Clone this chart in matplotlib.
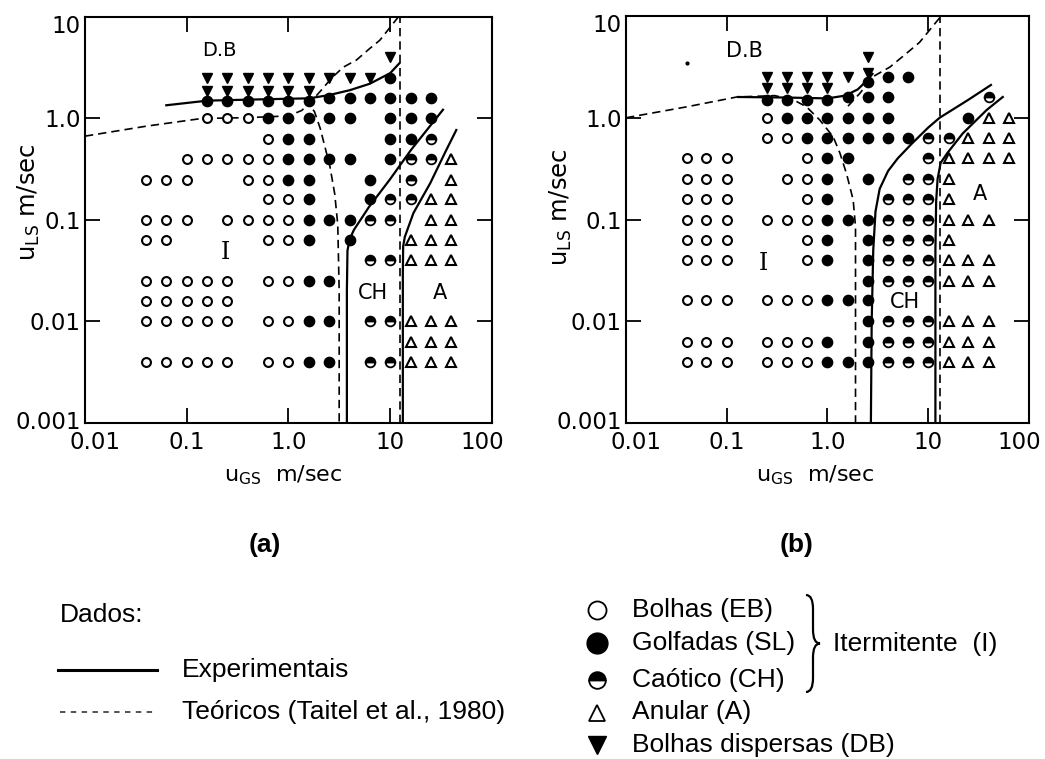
import matplotlib
matplotlib.use("Agg")
import matplotlib.pyplot as plt
from matplotlib.path import Path
from matplotlib.patches import PathPatch
from matplotlib.transforms import ScaledTranslation
from matplotlib.ticker import NullLocator, FixedLocator, FixedFormatter

# ---- flow pattern observations, panel (a): (u_LS, [u_GS, ...]) ----
eb_a = [(1.0, [0.16, 0.25, 0.4]),
        (0.63, [0.63]),
        (0.4, [0.1, 0.16, 0.25, 0.4, 0.63]),
        (0.25, [0.04, 0.063, 0.1, 0.4, 0.63]),
        (0.16, [0.63, 1.0]),
        (0.1, [0.04, 0.063, 0.1, 0.25, 0.4, 0.63, 1.0]),
        (0.063, [0.04, 0.063, 0.63, 1.0]),
        (0.025, [0.04, 0.063, 0.1, 0.16, 0.25, 0.63, 1.0]),
        (0.016, [0.04, 0.063, 0.1, 0.16, 0.25]),
        (0.01, [0.04, 0.063, 0.1, 0.16, 0.25, 0.63, 1.0]),
        (0.004, [0.04, 0.063, 0.1, 0.16, 0.25, 0.63, 1.0])]
sl_a = [(2.5, [10]),
        (1.6, [2.5, 4.0, 6.3, 10, 16, 25]),
        (1.5, [0.16, 0.25, 0.4, 0.63, 1.0, 1.6]),
        (1.0, [0.63, 1.0, 1.6, 2.5, 4.0, 10, 16, 25]),
        (0.63, [1.0, 1.6, 10, 16]),
        (0.4, [1.0, 1.6, 2.5, 4.0, 10]),
        (0.25, [1.0, 1.6, 6.3]),
        (0.16, [1.6, 6.3]),
        (0.1, [1.6, 2.5, 4.0]),
        (0.063, [1.6, 4.0]),
        (0.025, [1.6, 2.5]),
        (0.01, [1.6, 2.5]),
        (0.004, [1.6, 2.5])]
ch_a = [(0.63, [25]),
        (0.4, [16, 25]),
        (0.25, [16]),
        (0.16, [10, 16]),
        (0.1, [6.3, 10]),
        (0.04, [6.3, 10]),
        (0.01, [6.3, 10]),
        (0.004, [6.3, 10])]
an_a = [(0.4, [40]),
        (0.25, [40]),
        (0.16, [25, 40]),
        (0.1, [25, 40]),
        (0.063, [16, 25, 40]),
        (0.04, [16, 25, 40]),
        (0.01, [16, 25, 40]),
        (0.0063, [16, 25, 40]),
        (0.004, [16, 25, 40])]
db_a = [(4.0, [10]),
        (2.5, [0.16, 0.25, 0.4, 0.63, 1.0, 1.6, 2.5, 4.0, 6.3]),
        (1.85, [0.16, 0.25, 0.4, 0.63, 1.0, 1.6])]

# ---- panel (b) ----
eb_b = [(1.0, [0.25]),
        (0.63, [0.25, 0.4]),
        (0.4, [0.04, 0.063, 0.1, 0.63]),
        (0.25, [0.04, 0.063, 0.1, 0.4, 0.63]),
        (0.16, [0.04, 0.063, 0.1, 0.63]),
        (0.1, [0.04, 0.063, 0.1, 0.25, 0.4, 0.63]),
        (0.063, [0.04, 0.063, 0.1, 0.63]),
        (0.04, [0.04, 0.063, 0.1, 0.63]),
        (0.016, [0.04, 0.063, 0.1, 0.25, 0.4, 0.63]),
        (0.0063, [0.04, 0.063, 0.1, 0.25, 0.4, 0.63]),
        (0.004, [0.04, 0.063, 0.1, 0.25, 0.4, 0.63])]
sl_b = [(2.5, [4.0, 6.3]),
        (2.25, [2.5]),
        (1.6, [1.6, 2.5, 4.0]),
        (1.5, [0.25, 0.4, 0.63, 1.0]),
        (1.0, [0.4, 0.63, 1.0, 1.6, 2.5, 4.0, 25]),
        (0.63, [0.63, 1.0, 1.6, 2.5, 4.0, 6.3]),
        (0.4, [1.0, 1.6]),
        (0.25, [1.0, 2.5]),
        (0.16, [1.0]),
        (0.1, [1.0, 1.6, 2.5]),
        (0.063, [1.0, 2.5]),
        (0.04, [1.0, 2.5]),
        (0.025, [2.5]),
        (0.016, [1.0, 1.6, 2.5]),
        (0.01, [2.5]),
        (0.0063, [1.0, 2.5]),
        (0.004, [1.0, 1.6, 2.5])]
ch_b = [(1.6, [40]),
        (0.63, [10, 16]),
        (0.4, [10]),
        (0.25, [6.3, 10]),
        (0.16, [4.0, 6.3, 10]),
        (0.1, [4.0, 6.3, 10]),
        (0.063, [4.0, 6.3, 10]),
        (0.04, [4.0, 6.3, 10]),
        (0.025, [4.0, 6.3, 10]),
        (0.01, [4.0, 6.3, 10]),
        (0.0063, [4.0, 6.3, 10]),
        (0.004, [4.0, 6.3, 10])]
an_b = [(1.0, [40, 63]),
        (0.63, [25, 40, 63]),
        (0.4, [16, 25, 40, 63]),
        (0.25, [16]),
        (0.16, [16]),
        (0.1, [16, 25, 40]),
        (0.063, [16]),
        (0.04, [16, 25, 40]),
        (0.025, [16, 25, 40]),
        (0.01, [16, 25, 40]),
        (0.0063, [16, 25, 40]),
        (0.004, [16, 25, 40])]
db_b = [(4.0, [2.5]),
        (2.75, [2.5]),
        (2.5, [0.25, 0.4, 0.63, 1.0, 1.6]),
        (1.95, [0.25, 0.4, 0.63, 1.0])]

# ---- transition boundaries (u_GS list, u_LS list) ----
exp_db_a = ([0.063, 0.16, 0.63, 1.6, 2.5, 4.0, 6.3, 10, 12.3],
            [1.35, 1.5, 1.55, 1.58, 1.7, 1.9, 2.2, 2.8, 3.5])
exp_ch_a = ([3.75, 3.75, 3.8, 4.0, 4.4, 6.2, 9.9, 16, 33],
            [0.001, 0.02, 0.05, 0.065, 0.08, 0.135, 0.25, 0.49, 1.22])
exp_an_a = ([13.3, 13.3, 13.4, 13.9, 16.9, 24.7, 35.6, 44.6],
            [0.001, 0.03, 0.055, 0.068, 0.117, 0.23, 0.49, 0.77])
theo_db_a = ([0.01, 0.04, 0.14, 0.4, 1.0, 1.35, 1.7, 2.1, 2.65, 3.45, 4.66, 6.3, 7.9, 12],
             [0.67, 0.84, 1.0, 1.02, 1.06, 1.2, 1.5, 1.9, 2.5, 3.2, 3.77, 4.9, 5.9, 10])
theo_eb_a = ([1.45, 1.8, 2.05, 2.55, 2.85, 3.05, 3.15, 3.15],
             [1.55, 1.17, 0.8, 0.34, 0.18, 0.09, 0.02, 0.001])
theo_an_a = ([12.5, 12.5], [0.001, 10])

exp_db_b = ([0.13, 0.4, 1.0, 1.5, 2.0, 2.5, 2.8],
            [1.6, 1.58, 1.55, 1.65, 1.9, 2.35, 2.7])
exp_ch_b = ([2.7, 2.75, 2.85, 3.0, 3.3, 4.0, 5.0, 6.8, 10, 13, 25, 42],
            [0.001, 0.01, 0.05, 0.12, 0.2, 0.3, 0.4, 0.55, 0.8, 1.0, 1.5, 2.1])
exp_an_b = ([11.8, 11.8, 12.0, 12.4, 13.3, 15.5, 22, 38, 55],
            [0.001, 0.05, 0.15, 0.25, 0.36, 0.45, 0.7, 1.19, 1.6])
theo_eb_b = ([0.01, 0.04, 0.126, 0.3, 0.46, 0.62, 0.84, 1.14, 1.33, 1.55, 1.8, 1.9, 1.9],
             [1.0, 1.28, 1.6, 1.65, 1.5, 1.28, 0.95, 0.65, 0.45, 0.28, 0.156, 0.085, 0.001])
theo_db_b = ([1.6, 2.1, 2.84, 4.17, 6.1, 8.2, 13],
             [1.3, 1.74, 2.54, 3.15, 4.3, 5.5, 9.6])
theo_an_b = ([13, 13], [0.001, 10])

x_ticks = [0.01, 0.1, 1, 10, 100]
x_labels = ["0.01", "0.1", "1.0", "10", "100"]
y_ticks = [0.001, 0.01, 0.1, 1, 10]
y_labels = ["0.001", "0.01", "0.1", "1.0", "10"]

DASH = (0, (5, 3))


def expand(rows):
    xs, ys = [], []
    for y, row in rows:
        xs += row
        ys += [y] * len(row)
    return xs, ys


def nudge(label, dx, dy):
    # shift a tick label by (dx, dy) pixels
    label.set_transform(label.get_transform() +
                        ScaledTranslation(dx / 100, dy / 100, fig.dpi_scale_trans))


def draw_panel(ax, eb, sl, ch, an, db, exp_lines, theo_lines, regions):
    for xs, ys in exp_lines:
        ax.plot(xs, ys, color="black", lw=1.6, zorder=2)
    for xs, ys in theo_lines:
        ax.plot(xs, ys, color="black", lw=1.2, linestyle=DASH, zorder=2)

    ax.plot(*expand(eb), "o", ms=6.4, mfc="white", mec="black", mew=1.5,
            linestyle="none", zorder=3)
    ax.plot(*expand(sl), "o", ms=7.4, mfc="black", mec="black",
            linestyle="none", zorder=3)
    ax.plot(*expand(ch), "o", ms=7.0, fillstyle="top", mfc="black",
            markerfacecoloralt="white", mec="black", mew=1.3,
            linestyle="none", zorder=3)
    ax.plot(*expand(an), "^", ms=7.2, mfc="white", mec="black", mew=1.5,
            linestyle="none", zorder=3)
    ax.plot(*expand(db), "v", ms=7.8, mfc="black", mec="black",
            linestyle="none", zorder=4)

    for x, y, s, fam, fs in regions:
        ax.text(x, y, s, fontsize=fs, family=fam, ha="center", va="center")

    ax.set_xscale("log")
    ax.set_yscale("log")
    ax.set_xlim(0.01, 100)
    ax.set_ylim(0.001, 10)
    ax.xaxis.set_major_locator(FixedLocator(x_ticks))
    ax.xaxis.set_major_formatter(FixedFormatter(x_labels))
    ax.yaxis.set_major_locator(FixedLocator(y_ticks))
    ax.yaxis.set_major_formatter(FixedFormatter(y_labels))
    ax.xaxis.set_minor_locator(NullLocator())
    ax.yaxis.set_minor_locator(NullLocator())
    ax.tick_params(direction="in", top=True, right=True, length=11,
                   width=1.3, labelsize=16.5, pad=6)
    ax.tick_params(axis="y", pad=3)
    for sp in ax.spines.values():
        sp.set_linewidth(1.5)
    ax.set_xlabel("u$_\\mathregular{GS}$  m/sec", fontsize=16)
    ax.set_ylabel("u$_\\mathregular{LS}$ m/sec", fontsize=17.5)

    xt = ax.xaxis.get_major_ticks()
    nudge(xt[0].label1, 10, 0)
    nudge(xt[-1].label1, -10, 0)
    yt = ax.yaxis.get_major_ticks()
    nudge(yt[-1].label1, 0, -7)
    nudge(yt[0].label1, 0, 3)


fig = plt.figure(figsize=(10.45, 7.59), dpi=100)
ax_a = fig.add_axes([0.0813, 0.4427, 0.3895, 0.5349])
ax_b = fig.add_axes([0.5990, 0.4427, 0.3856, 0.5362])

draw_panel(ax_a, eb_a, sl_a, ch_a, an_a, db_a,
           [exp_db_a, exp_ch_a, exp_an_a], [theo_db_a, theo_eb_a, theo_an_a],
           [(0.21, 4.7, "D.B", "DejaVu Sans", 14), (0.24, 0.048, "I", "DejaVu Serif", 17),
            (6.8, 0.019, "CH", "DejaVu Sans", 15), (31, 0.019, "A", "DejaVu Sans", 15)])
draw_panel(ax_b, eb_b, sl_b, ch_b, an_b, db_b,
           [exp_db_b, exp_ch_b, exp_an_b], [theo_eb_b, theo_db_b, theo_an_b],
           [(0.15, 4.5, "D.B", "DejaVu Sans", 15), (0.23, 0.037, "I", "DejaVu Serif", 17),
            (5.9, 0.0156, "CH", "DejaVu Sans", 15), (33, 0.18, "A", "DejaVu Sans", 15)])
ax_b.plot([0.04], [3.45], "o", ms=2, color="black")

ax_a.xaxis.set_label_coords(0.486, -0.10)
ax_a.yaxis.set_label_coords(-0.105, 0.544)
ax_b.xaxis.set_label_coords(0.469, -0.10)
ax_b.yaxis.set_label_coords(-0.13, 0.53)

# captions and key, laid out in pixel units
key = fig.add_axes([0, 0, 1, 1], zorder=-1)
key.set_xlim(0, 1045)
key.set_ylim(759, 0)
key.axis("off")

txt = dict(family="Liberation Sans", fontsize=19, va="center")
key.text(265, 545, "(a)", ha="center", fontweight="bold", **txt)
key.text(797, 545, "(b)", ha="center", fontweight="bold", **txt)

key.text(60, 615, "Dados:", **txt)
key.plot([58, 157], [670, 670], color="black", lw=2.2)
key.text(182, 670, "Experimentais", **txt)
key.plot([60, 157], [712, 712], color="#444444", lw=1.3, linestyle=(0, (3, 3)))
key.text(182, 712, "Teóricos (Taitel et al., 1980)", **txt)

key.plot(597, 610, "o", ms=13, mfc="white", mec="black", mew=1.3)
key.plot(597, 643, "o", ms=15, color="black")
key.plot(597, 680, "o", ms=12, fillstyle="top", mfc="black",
         markerfacecoloralt="white", mec="black", mew=1.3)
key.plot(597, 713, "^", ms=11, mfc="white", mec="black", mew=1.3)
key.plot(597, 745, "v", ms=13, color="black")
key.text(632, 610, "Bolhas (EB)", **txt)
key.text(632, 643, "Golfadas (SL)", **txt)
key.text(632, 680, "Caótico (CH)", **txt)
key.text(632, 712, "Anular (A)", **txt)
key.text(632, 745, "Bolhas dispersas (DB)", **txt)

# curly brace grouping the intermittent patterns
bx, y0, y1, w = 806, 595, 692, 14
ym = (y0 + y1) / 2
verts = [(bx, y0),
         (bx + w * 0.5, y0), (bx + w * 0.5, y0 + 14),
         (bx + w * 0.5, ym - 14),
         (bx + w * 0.5, ym), (bx + w, ym),
         (bx + w * 0.5, ym), (bx + w * 0.5, ym + 14),
         (bx + w * 0.5, y1 - 14),
         (bx + w * 0.5, y1), (bx, y1)]
codes = [Path.MOVETO,
         Path.CURVE3, Path.CURVE3,
         Path.LINETO,
         Path.CURVE3, Path.CURVE3,
         Path.CURVE3, Path.CURVE3,
         Path.LINETO,
         Path.CURVE3, Path.CURVE3]
key.add_patch(PathPatch(Path(verts, codes), fill=False, lw=1.6, color="black"))
key.text(833, 644, "Itermitente  (I)", **txt)

fig.savefig("out.png", dpi=100)
